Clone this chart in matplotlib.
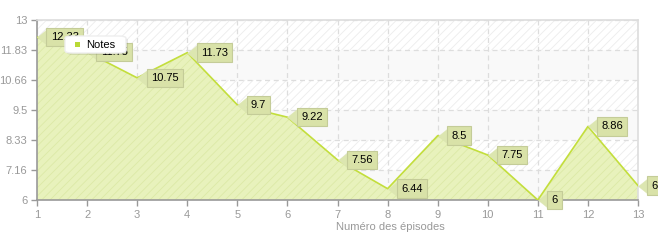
import matplotlib
matplotlib.use("Agg")
import matplotlib.pyplot as plt
from matplotlib.patches import FancyBboxPatch, Rectangle
from matplotlib.path import Path

episodes = [1, 2, 3, 4, 5, 6, 7, 8, 9, 10, 11, 12, 13]
notes = [12.33, 11.75, 10.75, 11.73, 9.7, 9.22, 7.56, 6.44, 8.5, 7.75, 6, 8.86, 6.56]
y_ticks = [6, 7.16, 8.33, 9.5, 10.66, 11.83, 13]
y_tick_labels = ["6", "7.16", "8.33", "9.5", "10.66", "11.83", "13"]
series_name = "Notes"
x_label = "Numéro des épisodes"

plt.rcParams['hatch.linewidth'] = 0.6
plt.rcParams['font.family'] = ['Liberation Sans', 'DejaVu Sans']
W, H = 658, 240
fig = plt.figure(figsize=(W / 100, H / 100), dpi=100)
ax = fig.add_axes([37 / W, 40 / H, (638 - 37) / W, 180 / H])
ax.set_xlim(1, 13)
ax.set_ylim(6, 13)

# background bands
for i in range(len(y_ticks) - 1):
    lo, hi = y_ticks[i], y_ticks[i + 1]
    if i % 2 == 1:
        ax.axhspan(lo, hi, facecolor='white', edgecolor='#ececec', hatch='////', linewidth=0, zorder=0)
    else:
        ax.axhspan(lo, hi, facecolor='#f9f9f9', edgecolor='#f9f9f9', linewidth=0, zorder=0)

ax.grid(True, color='#dddddd', linestyle=(0, (4, 3)), linewidth=0.9, zorder=1)
ax.set_axisbelow(True)

ax.fill_between(episodes, notes, 6, facecolor='#e8f2bc', edgecolor='#dce9a6', hatch='////', linewidth=0, zorder=2)
ax.plot(episodes, notes, color='#c3de3c', linewidth=1.2, zorder=3)

# label pointer: tip at the data point, base to the right
pointer = Path([(0, 0), (1, 0.8), (1, -0.8), (0, 0)], [Path.MOVETO, Path.LINETO, Path.LINETO, Path.CLOSEPOLY])
ax.plot(episodes, notes, linestyle='none', marker=pointer, markersize=13.5,
        markerfacecolor='#dce6b0', markeredgecolor='#dce6b0', markeredgewidth=0.3,
        zorder=5, clip_on=False)

for x, y in zip(episodes, notes):
    lbl = f"{y:g}"
    ax.annotate(lbl, xy=(x, y), xytext=(9.8, 0), textcoords='offset points',
                ha='left', va='center', fontsize=8, color='black', zorder=6,
                bbox=dict(boxstyle='square,pad=0.38', facecolor='#d9e2a8', edgecolor='#c4cc98', linewidth=0.8),
                annotation_clip=False)

ax.set_xticks(episodes)
ax.set_yticks(y_ticks)
ax.set_yticklabels(y_tick_labels)
ax.tick_params(axis='both', colors='#999999', labelsize=8, length=4, width=1)
ax.tick_params(axis='y', pad=3)
ax.tick_params(axis='x', pad=3)
for s in ['left', 'bottom']:
    ax.spines[s].set_color('#999999')
    ax.spines[s].set_linewidth(1.2)
for s in ['top', 'right']:
    ax.spines[s].set_color('#dddddd')
    ax.spines[s].set_linewidth(1.2)

fig.text(390 / W, 1 - 227 / H, x_label, ha='center', va='center', fontsize=8, color='#999999')

# legend
lx, ly, lw, lh = 65 / W, 1 - 53 / H, 61 / W, 17 / H
fig.patches.append(FancyBboxPatch((lx + 2 / W, ly - 2 / H), lw, lh, boxstyle='round,pad=0,rounding_size=0.01',
                                  transform=fig.transFigure, facecolor='#00000018', edgecolor='none', zorder=9))
fig.patches.append(FancyBboxPatch((lx, ly), lw, lh, boxstyle='round,pad=0,rounding_size=0.01',
                                  transform=fig.transFigure, facecolor='white', edgecolor='#eeeeee', zorder=10))
fig.patches.append(Rectangle((75 / W, 1 - 47 / H), 5 / W, 5 / H, transform=fig.transFigure,
                             facecolor='#b9d936', edgecolor='none', zorder=11))
fig.text(86 / W, 1 - 44.5 / H, series_name, ha='left', va='center', fontsize=8, color='black', zorder=12)

fig.savefig('out.png', dpi=100)
